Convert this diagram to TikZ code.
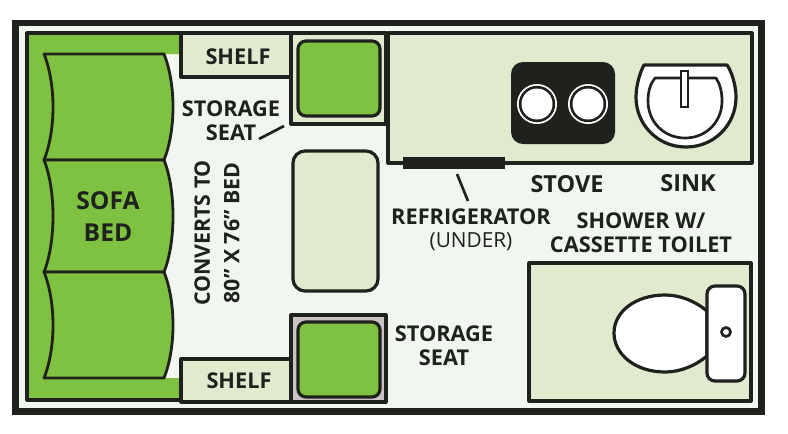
\documentclass[tikz,border=0pt]{standalone}
\usepackage{fontspec}
\setmainfont{Open Sans}
\usetikzlibrary{positioning,backgrounds}
\definecolor{sofagreen}{HTML}{7FC241}
\definecolor{counter}{HTML}{DFEACE}
\definecolor{floor}{HTML}{F1F6EF}
\definecolor{ink}{HTML}{1F211C}
\definecolor{seatgrey}{HTML}{CBC2C6}
\tikzset{
  wall/.style={draw=ink,line width=2.4pt,line join=round},
  cushion/.style={draw=ink,line width=2.1pt,fill=sofagreen,line join=round},
  pad/.style={draw=ink,line width=2.4pt,fill=sofagreen,rounded corners=6pt},
  lbl/.style={font=\bfseries\fontsize{16.3}{18}\selectfont,text=ink,align=center,inner sep=0pt},
  lblbig/.style={lbl,font=\bfseries\fontsize{17.6}{18}\selectfont},
  leader/.style={draw=ink,line width=2pt}
}
\begin{document}
\begin{tikzpicture}[x=0.75pt,y=-0.75pt]
\useasboundingbox (0,0) rectangle (788,433);
\fill[white] (0,0) rectangle (788,433);
\draw[draw=ink,line width=5.2pt,fill=floor] (15.5,23) rectangle (761.5,411.5); % outer shell

% sofa
\fill[sofagreen] (27,33) -- (181,33) -- (181,54) -- (60,54) -- (60,378) -- (181,378) -- (181,400) -- (27,400) -- cycle;
\draw[wall] (181,33) -- (27,33) -- (27,400) -- (181,400);
\foreach \ytop/\ybot in {54/160,160/272,272/378}{ %one cushion per row
\draw[cushion] (44,\ytop) .. controls ({56},{\ytop+30}) and ({56},{\ybot-30}) .. (44,\ybot) -- (164,\ybot) .. controls ({176},{\ybot-30}) and ({176},{\ytop+30}) .. (164,\ytop) -- cycle;
}

% shelves
\draw[wall,fill=counter] (181,33) rectangle (291,77);
\draw[wall,fill=counter] (181,359) rectangle (291,402);

% storage seats
\draw[wall,fill=counter] (291,33) rectangle (386,124);
\draw[pad] (298,41) rectangle (380,116);
\draw[wall,fill=seatgrey] (291,315) rectangle (386,402);
\draw[pad] (298,322) rectangle (380,397);

% table
\draw[wall,fill=counter,rounded corners=9pt] (293,151) rectangle (378,291);

% galley counter
\draw[wall,fill=counter] (388,33) rectangle (752,163);
\fill[ink] (403,157) rectangle (505,169); % refrigerator
\fill[ink,rounded corners=9pt] (511,62) rectangle (615,144); % stove
\foreach \bx in {537,588}{
\fill[white] (\bx,104) circle [radius=20];
\fill[ink] (\bx,104) circle [radius=18.2];
\fill[white] (\bx,104) circle [radius=15.5];
}

% sink
\draw[wall,fill=white] (644,65) -- (727,65) .. controls (732,72) and (736,86) .. (736,97) .. controls (736,125) and (714,147) .. (686,147) .. controls (658,147) and (636,125) .. (636,97) .. controls (636,86) and (640,72) .. (644,65) -- cycle;
\draw[wall,fill=white,line width=2pt] (655,78) -- (716,78) .. controls (720,84) and (722,92) .. (722,101) .. controls (722,122) and (706,138) .. (685,138) .. controls (664,138) and (648,122) .. (648,101) .. controls (648,92) and (650,84) .. (655,78) -- cycle;
\draw[draw=ink,line width=1.6pt,fill=white] (681,71) rectangle (688,107);

% shower and toilet
\draw[wall,fill=counter] (529,263) rectangle (751,401);
\draw[wall,fill=white] (707,311) .. controls (695,301) and (680,295) .. (665,295) .. controls (635,295) and (614,312) .. (614,333) .. controls (614,354) and (635,372) .. (665,372) .. controls (680,372) and (695,366) .. (707,356) -- cycle;
\draw[wall,fill=white,rounded corners=6pt] (707,286) rectangle (745,381);
\draw[draw=ink,line width=2pt,fill=white] (726,332) circle [radius=4.5];

% labels
\node[lbl] (shelftop) at (238,57) {SHELF};
\node[lbl] (shelfbot) at (239,381) {SHELF};
\node[lbl] (seattop) at (231,121) {STORAGE\\SEAT};
\node[lbl] (seatbot) at (444,346) {STORAGE\\SEAT};
\node[lbl,font=\bfseries\fontsize{18.5}{24}\selectfont] (sofa) at (108,217) {SOFA\\BED};
\node[lbl,rotate=90,font=\bfseries\fontsize{16}{22}\selectfont] (converts) at (217,233) {CONVERTS TO\\80" X 76" BED};
\node[lblbig] (stove) at (567,184) {STOVE};
\node[lblbig] (sink) at (688,183) {SINK};
\node[lbl] (fridge) at (471,217) {REFRIGERATOR};
\node[lbl,font=\fontsize{15.6}{18}\selectfont] (under) at (471,242) {(UNDER)};
\node[lbl] (shower) at (641,233) {SHOWER W/\\CASSETTE TOILET};

\coordinate (seattip) at (284,126);
\coordinate (seatend) at (259,139);
\coordinate (fridgetip) at (457,174);
\coordinate (fridgeend) at (468,201);
\draw[leader] (seatend) -- (seattip);
\draw[leader] (fridgeend) -- (fridgetip);
\end{tikzpicture}
\end{document}
